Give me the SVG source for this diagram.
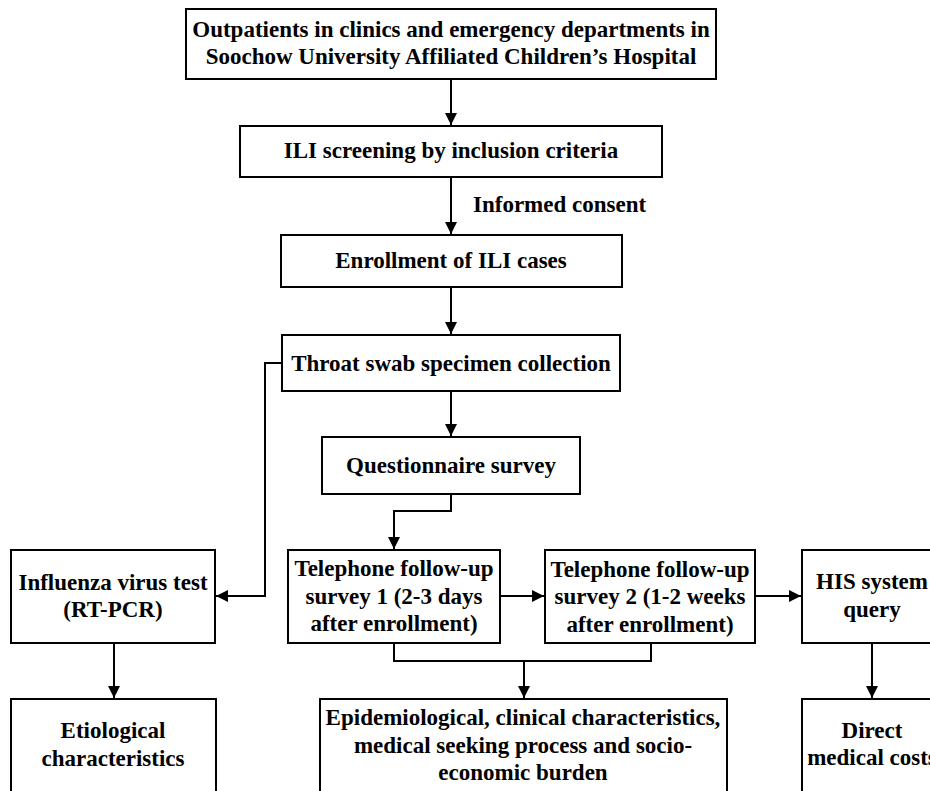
<svg xmlns="http://www.w3.org/2000/svg" width="930" height="791" viewBox="0 0 930 791">
<style>
.box{fill:#fff;stroke:#000;stroke-width:2}
.t{font-family:"Liberation Serif","Times New Roman",serif;font-weight:bold;font-size:23px;fill:#000;text-anchor:middle}
.c{fill:none;stroke:#000;stroke-width:2}
</style>
<defs>
<marker id="ah" markerUnits="userSpaceOnUse" markerWidth="12" markerHeight="12" refX="12" refY="6" orient="auto">
<path d="M0,0 L12,6 L0,12 z" fill="#000"/>
</marker>
</defs>
<rect width="930" height="791" fill="#fff"/>
<g id="connectors">
<path class="c" d="M451,79 V125" marker-end="url(#ah)"/>
<path class="c" d="M451,177 V234" marker-end="url(#ah)"/>
<path class="c" d="M451,287 V334" marker-end="url(#ah)"/>
<path class="c" d="M451,391 V436" marker-end="url(#ah)"/>
<path class="c" d="M282,363 H265 V596 H216" marker-end="url(#ah)"/>
<path class="c" d="M451,494 V511 H394 V549" marker-end="url(#ah)"/>
<path class="c" d="M500,596 H544" marker-end="url(#ah)"/>
<path class="c" d="M755,596 H801" marker-end="url(#ah)"/>
<path class="c" d="M114,643 V698" marker-end="url(#ah)"/>
<path class="c" d="M394,643 V661 H651 V643"/>
<path class="c" d="M524,661 V698" marker-end="url(#ah)"/>
<path class="c" d="M872,643 V698" marker-end="url(#ah)"/>
<text class="t" x="473" y="212" style="text-anchor:start">Informed consent</text>
</g>
<g id="n-outpatients">
<rect class="box" x="186" y="9" width="530" height="70"/>
<text class="t" x="451" y="37">Outpatients in clinics and emergency departments in</text>
<text class="t" x="451" y="64">Soochow University Affiliated Children’s Hospital</text>
</g>
<g id="n-screening">
<rect class="box" x="240" y="126" width="422" height="51"/>
<text class="t" x="451" y="158">ILI screening by inclusion criteria</text>
</g>
<g id="n-enrollment">
<rect class="box" x="281" y="235" width="341" height="52"/>
<text class="t" x="451" y="268">Enrollment of ILI cases</text>
</g>
<g id="n-throat">
<rect class="box" x="282" y="335" width="338" height="56"/>
<text class="t" x="451" y="371">Throat swab specimen collection</text>
</g>
<g id="n-questionnaire">
<rect class="box" x="322" y="437" width="258" height="57"/>
<text class="t" x="451" y="473">Questionnaire survey</text>
</g>
<g id="n-influenza">
<rect class="box" x="11" y="550" width="204" height="93"/>
<text class="t" x="113" y="590">Influenza virus test</text>
<text class="t" x="113" y="617">(RT-PCR)</text>
</g>
<g id="n-tel1">
<rect class="box" x="288" y="550" width="212" height="93"/>
<text class="t" x="394" y="576">Telephone follow-up</text>
<text class="t" x="394" y="604">survey 1 (2-3 days</text>
<text class="t" x="394" y="631">after enrollment)</text>
</g>
<g id="n-tel2">
<rect class="box" x="545" y="550" width="210" height="93"/>
<text class="t" x="650" y="577">Telephone follow-up</text>
<text class="t" x="650" y="604">survey 2 (1-2 weeks</text>
<text class="t" x="650" y="632">after enrollment)</text>
</g>
<g id="n-his">
<rect class="box" x="802" y="550" width="140" height="93"/>
<text class="t" x="872" y="589">HIS system</text>
<text class="t" x="872" y="617">query</text>
</g>
<g id="n-etiological">
<rect class="box" x="11" y="699" width="205" height="110"/>
<text class="t" x="113" y="738">Etiological</text>
<text class="t" x="113" y="766">characteristics</text>
</g>
<g id="n-epi">
<rect class="box" x="320" y="699" width="407" height="110"/>
<text class="t" x="523" y="725">Epidemiological, clinical characteristics,</text>
<text class="t" x="523" y="753">medical seeking process and socio-</text>
<text class="t" x="523" y="780">economic burden</text>
</g>
<g id="n-direct">
<rect class="box" x="802" y="699" width="140" height="110"/>
<text class="t" x="872" y="738">Direct</text>
<text class="t" x="872" y="765">medical costs</text>
</g>
</svg>
